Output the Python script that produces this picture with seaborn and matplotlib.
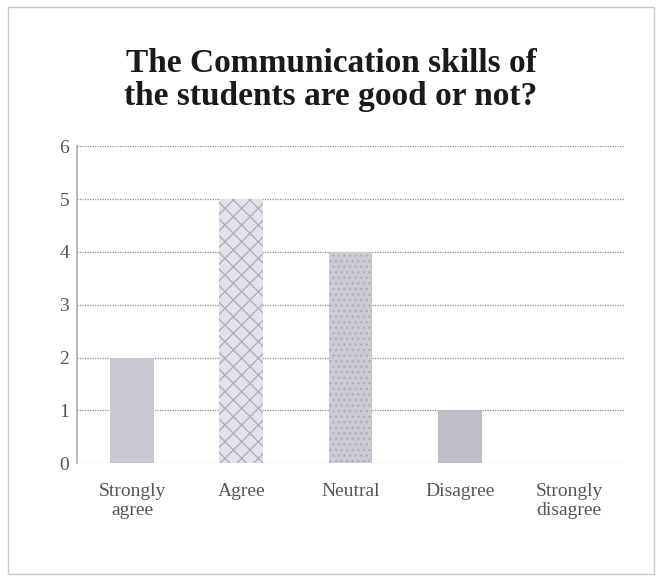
import matplotlib
matplotlib.use("Agg")
import matplotlib.pyplot as plt
import seaborn as sns
import pandas as pd

# chart data
responses = ["Strongly\nagree", "Agree", "Neutral", "Disagree", "Strongly\ndisagree"]
counts = [2, 5, 4, 1, 0]
bar_colors = ["#c9c5d1", "#e4e1ea", "#cdc9d5", "#bfbbc8", "#c9c5d1"]
hatches = ["", "\\\\//", "...", "", ""]

df = pd.DataFrame({"response": responses, "count": counts})

sns.set_theme(style="white")
plt.rcParams["font.family"] = ["Liberation Serif", "DejaVu Serif"]

fig = plt.figure(figsize=(6.62, 5.81), dpi=100)
ax = fig.add_axes([0.117, 0.203, 0.825, 0.545])

sns.barplot(data=df, x="response", y="count", hue="response",
            palette=bar_colors, width=0.4, legend=False, ax=ax)
for bar, h in zip(ax.patches, hatches):
    bar.set_hatch(h)
    bar.set_edgecolor("#b3aebe")
    bar.set_linewidth(0)

ax.set_ylim(0, 6)
ax.set_yticks(range(0, 7))
ax.set_xlim(-0.5, 4.5)
ax.yaxis.grid(True, linestyle=(0, (1, 1)), color="#8a8a8a", linewidth=0.9)
ax.set_axisbelow(True)
for side in ["top", "right", "bottom"]:
    ax.spines[side].set_visible(False)
ax.spines["left"].set_color("#b0b0b0")
ax.spines["left"].set_linestyle((0, (1, 1)))
ax.set_xlabel("")
ax.set_ylabel("")
ax.tick_params(axis="both", labelsize=14, colors="#555555", length=0)
ax.tick_params(axis="x", pad=14)
ax.tick_params(axis="y", pad=6)

fig.text(0.5, 0.862, "The Communication skills of\nthe students are good or not?",
         ha="center", va="center", fontsize=24, fontweight="bold",
         color="#1a1a1a", linespacing=1.1)

# thin frame around the chart
frame = plt.Rectangle((0.012, 0.012), 0.976, 0.976, transform=fig.transFigure,
                      fill=False, edgecolor="#c8c8c8", linewidth=1)
fig.patches.append(frame)

fig.savefig("out.png", dpi=100)
